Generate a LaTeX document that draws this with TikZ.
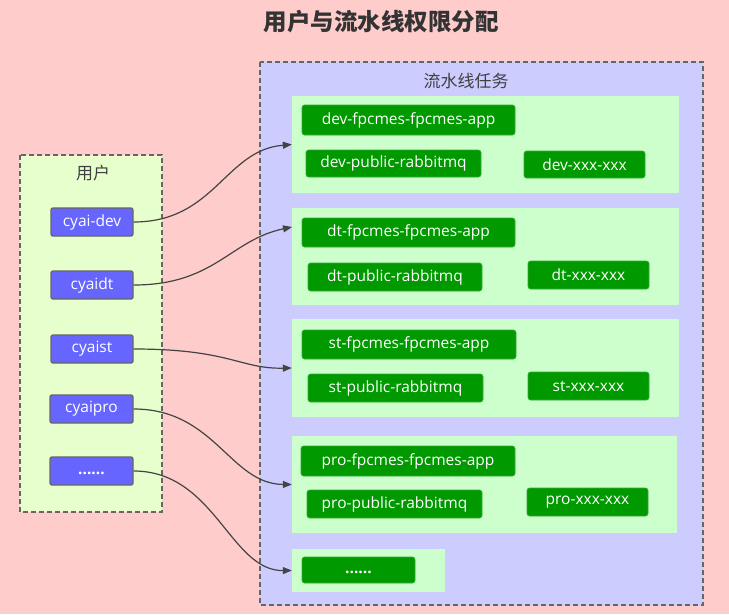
\documentclass[tikz,border=0pt]{standalone}
\usepackage{fontspec}
\setmainfont{Noto Sans CJK SC}
\newfontfamily\latinf{Open Sans}
\usetikzlibrary{arrows.meta}
\definecolor{bgpink}{HTML}{FFCCCC}
\definecolor{userbg}{HTML}{E6FFCC}
\definecolor{pipebg}{HTML}{CCCCFF}
\definecolor{grpbg}{HTML}{CCFFCC}
\definecolor{unode}{HTML}{6666FF}
\definecolor{gnode}{HTML}{009900}
\definecolor{gborder}{HTML}{33AA33}
\definecolor{frame}{HTML}{666666}
\definecolor{edge}{HTML}{444444}
\begin{document}
\begin{tikzpicture}[x=1pt,y=-1pt,
  cluster/.style={draw=frame,dashed,line width=1.4pt,dash pattern=on 5pt off 3pt},
  grp/.style={fill=grpbg,draw=none,inner sep=0pt},
  ubox/.style={fill=unode,draw=frame,line width=1.3pt,rounded corners=2pt,inner sep=0pt,text=white,font=\latinf\fontsize{15.5}{16}\selectfont},
  gbox/.style={fill=gnode,draw=gborder,line width=0.6pt,rounded corners=2.5pt,inner sep=0pt,text=white,font=\latinf\fontsize{15.5}{16}\selectfont},
  lbl/.style={text=black!75,font=\fontsize{17}{18}\selectfont},
  link/.style={draw=edge,line width=1.2pt,-{Triangle[length=9pt,width=7pt]}}
]
\useasboundingbox (0,0) rectangle (729,614);
\fill[bgpink] (0,0) rectangle (729,614);
\node[font=\bfseries\fontsize{23.5}{26}\selectfont,text=black!80] (title) at (381,22) {用户与流水线权限分配};
% user cluster
\draw[cluster,fill=userbg] (20,155) rectangle (162,512);
\node[lbl] (ulbl) at (93,173) {用户};
% pipeline cluster
\draw[cluster,fill=pipebg] (260,62) rectangle (703,605);
\node[lbl] (plbl) at (466,81) {流水线任务};
% groups
\node[grp,minimum width=387pt,minimum height=97pt] (g1) at (485.5,144.5) {};
\node[grp,minimum width=387pt,minimum height=97pt] (g2) at (485.5,256.5) {};
\node[grp,minimum width=387pt,minimum height=98pt] (g3) at (485.5,368) {};
\node[grp,minimum width=385pt,minimum height=97pt] (g4) at (484.5,484.5) {};
\node[grp,minimum width=153pt,minimum height=43pt] (g5) at (368.5,570.5) {};
% users
\node[ubox,minimum width=82pt,minimum height=28pt] (u1) at (92,222) {cyai-dev};
\node[ubox,minimum width=82pt,minimum height=28pt] (u2) at (92,285) {cyaidt};
\node[ubox,minimum width=82pt,minimum height=28pt] (u3) at (92,349) {cyaist};
\node[ubox,minimum width=83pt,minimum height=28pt] (u4) at (91.5,409) {cyaipro};
\node[ubox,minimum width=83pt,minimum height=28pt] (u5) at (91.5,471) {\raisebox{-7pt}{\bfseries ......}};
% pipeline jobs
\node[gbox,minimum width=213pt,minimum height=30pt] (d1) at (408.5,120) {dev-fpcmes-fpcmes-app};
\node[gbox,minimum width=175pt,minimum height=27pt] (d2) at (393.5,163.5) {dev-public-rabbitmq};
\node[gbox,minimum width=121pt,minimum height=27pt] (d3) at (584.5,164.5) {dev-xxx-xxx};
\node[gbox,minimum width=213pt,minimum height=29pt] (t1) at (408.5,232.5) {dt-fpcmes-fpcmes-app};
\node[gbox,minimum width=174pt,minimum height=28pt] (t2) at (395,277) {dt-public-rabbitmq};
\node[gbox,minimum width=121pt,minimum height=28pt] (t3) at (588.5,275) {dt-xxx-xxx};
\node[gbox,minimum width=214pt,minimum height=29pt] (s1) at (409,344.5) {st-fpcmes-fpcmes-app};
\node[gbox,minimum width=175pt,minimum height=28pt] (s2) at (395.5,388) {st-public-rabbitmq};
\node[gbox,minimum width=121pt,minimum height=28pt] (s3) at (588.5,386) {st-xxx-xxx};
\node[gbox,minimum width=214pt,minimum height=30pt] (p1) at (408,461) {pro-fpcmes-fpcmes-app};
\node[gbox,minimum width=175pt,minimum height=28pt] (p2) at (394.5,504) {pro-public-rabbitmq};
\node[gbox,minimum width=121pt,minimum height=28pt] (p3) at (587.5,502) {pro-xxx-xxx};
\node[gbox,minimum width=113pt,minimum height=26pt] (x1) at (358.5,570) {\raisebox{-7pt}{\bfseries ......}};
% edges
\coordinate (g2in) at (292,227);
\draw[link] (u1.east) .. controls (215,222) and (225,150) .. (g1.west);
\draw[link] (u2.east) .. controls (215,285) and (230,240) .. (g2in);
\draw[link] (u3.east) .. controls (230,349) and (240,369) .. (g3.west);
\draw[link] (u4.east) .. controls (215,409) and (230,484) .. (g4.west);
\draw[link] (u5.east) .. controls (215,471) and (230,571) .. (g5.west);
\end{tikzpicture}
\end{document}
